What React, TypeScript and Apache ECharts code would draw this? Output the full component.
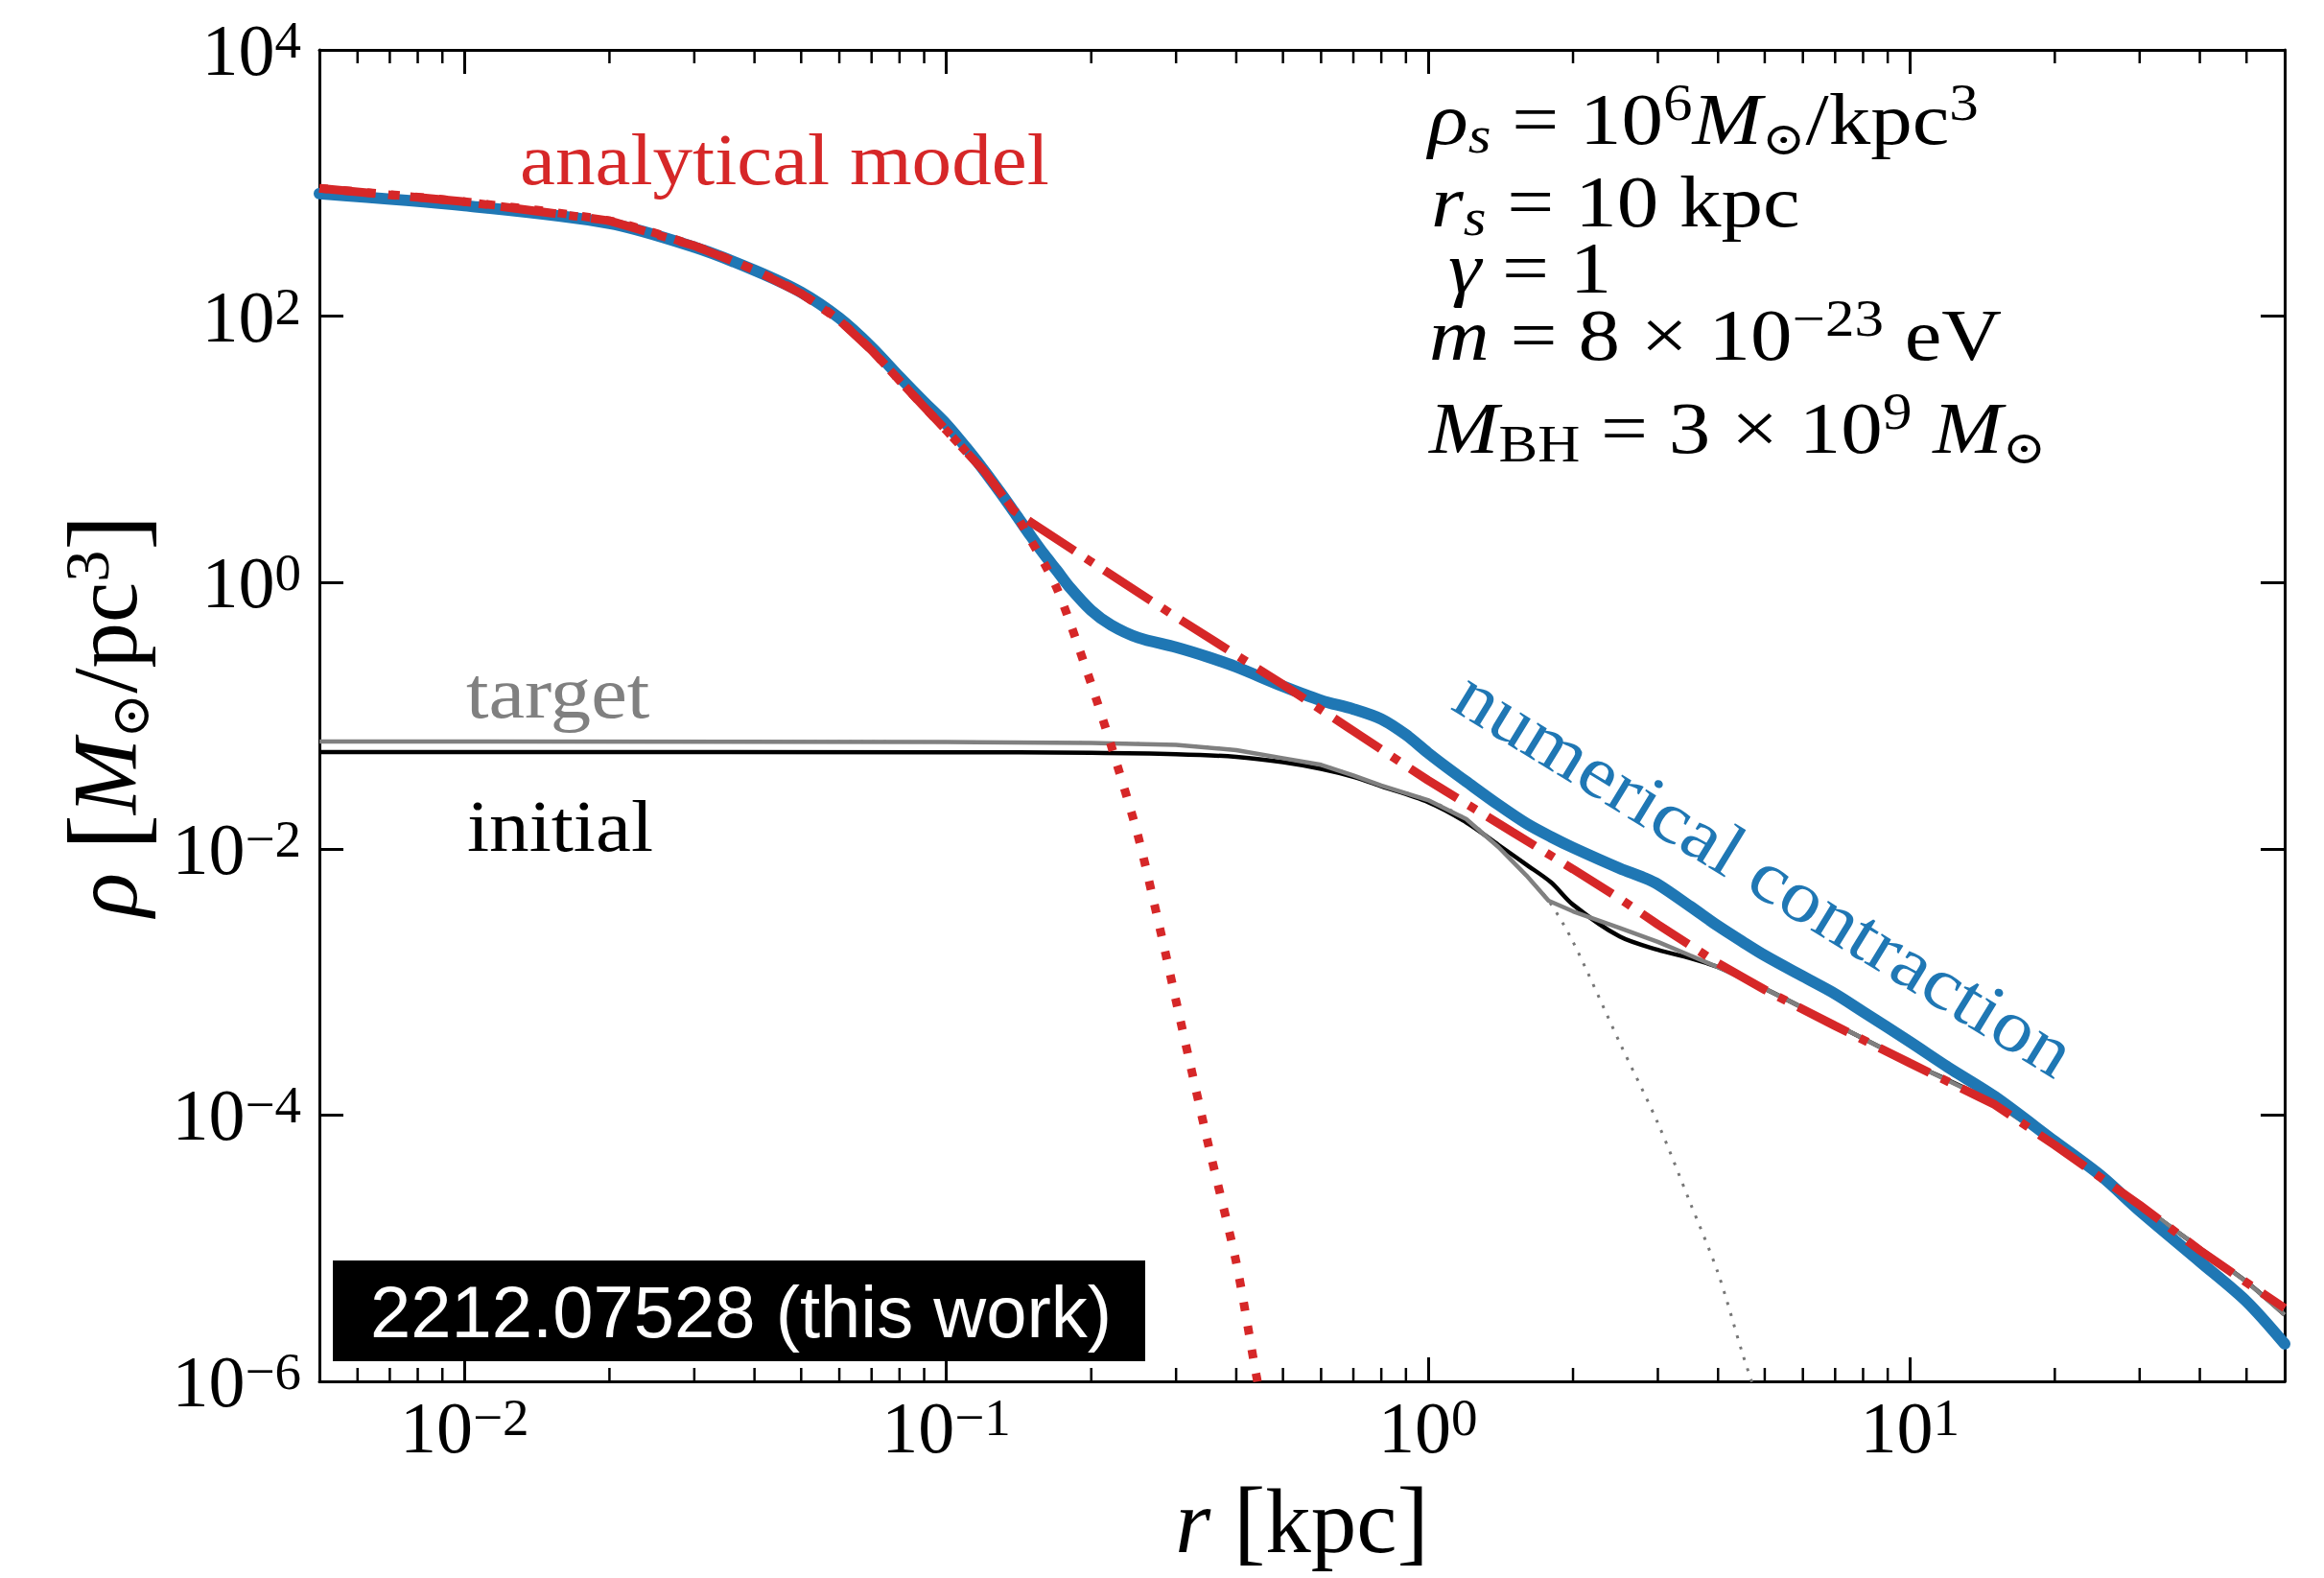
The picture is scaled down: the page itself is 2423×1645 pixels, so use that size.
import { useEffect, useRef } from "react";
import * as echarts from "echarts";

const SERIF = '"Liberation Serif", "Times New Roman", serif';
const SANS = '"Liberation Sans", Arial, sans-serif';
const SYM = '"DejaVu Serif", "DejaVu Sans", serif';

const X_MIN = 0.005;
const X_MAX = 60;
const Y_MIN = 1e-6;
const Y_MAX = 1e4;

const xMinorTicks = [
  0.006, 0.007, 0.008, 0.009, 0.02, 0.03, 0.04, 0.05, 0.06, 0.07, 0.08, 0.09,
  0.2, 0.3, 0.4, 0.5, 0.6, 0.7, 0.8, 0.9, 2, 3, 4, 5, 6, 7, 8, 9, 20, 30, 40, 50,
];

// numerical contraction (blue)
const numR = [
  0.005, 0.01, 0.02, 0.03, 0.04, 0.05, 0.06, 0.07, 0.08, 0.09, 0.1, 0.11, 0.12, 0.13,
  0.14, 0.15, 0.16, 0.17, 0.18, 0.2, 0.22, 0.25, 0.3, 0.35, 0.4, 0.5, 0.6, 0.7, 0.8,
  0.9, 1.0, 1.1, 1.2, 1.4, 1.6, 1.8, 2.0, 2.5, 2.8, 3.0, 3.5, 4, 4.5, 5, 6, 7, 8, 10,
  12, 15, 20, 25, 30, 40, 50, 60,
];
const numRho = [
  832, 676, 498, 330, 221, 151, 96.8, 58.5, 35, 22.6, 15.5, 10.3, 6.9, 4.65, 3.18,
  2.22, 1.61, 1.22, 0.93, 0.617, 0.479, 0.386, 0.326, 0.275, 0.232, 0.166, 0.13,
  0.112, 0.0942, 0.0718, 0.0525, 0.0403, 0.032, 0.0214, 0.0155, 0.0123, 0.0102,
  7.13e-3, 6.08e-3, 5.41e-3, 3.7e-3, 2.63e-3, 2.0e-3, 1.58e-3, 1.1e-3, 8.13e-4,
  5.97e-4, 3.55e-4, 2.29e-4, 1.38e-4, 6.34e-5, 3.47e-5, 1.91e-5, 7.94e-6, 3.98e-6,
  1.91e-6,
];

// analytical model (red dash-dot)
const anaR = [
  0.005, 0.01, 0.02, 0.03, 0.04, 0.05, 0.06, 0.07, 0.08, 0.09, 0.1, 0.11, 0.12, 0.13,
  0.138, 0.15, 0.2, 0.3, 0.5, 0.7, 1, 1.5, 2, 2.5, 3, 4, 5, 7, 10, 15, 20, 30, 40, 50, 60,
];
const anaRho = [
  912, 724, 521, 338, 222, 148, 93, 55.5, 32.9, 20.8, 13.9, 9.6, 6.84, 4.65, 3.47,
  2.83, 1.43, 0.55, 0.171, 0.0766, 0.0327, 0.0133, 7.03e-3, 4.23e-3, 2.7e-3, 1.38e-3,
  8.73e-4, 4.68e-4, 2.46e-4, 1.2e-4, 5.94e-5, 2.11e-5, 9.64e-6, 5.52e-6, 3.55e-6,
];

// soliton core of the analytical model (red dotted)
const solR = [
  0.005, 0.01, 0.02, 0.03, 0.04, 0.05, 0.06, 0.07, 0.08, 0.09, 0.1, 0.11, 0.12, 0.13,
  0.138, 0.15, 0.16, 0.17, 0.18, 0.2, 0.22, 0.25, 0.28, 0.3, 0.35, 0.4, 0.44, 0.46,
];
const solRho = [
  912, 724, 521, 338, 222, 148, 93, 55.5, 32.9, 20.8, 13.9, 9.6, 6.84, 4.65, 3.47,
  2.06, 1.38, 0.89, 0.52, 0.173, 0.0596, 0.0126, 2.21e-3, 7.18e-4, 6.0e-5, 7.8e-6,
  1.12e-6, 5e-7,
];

// target (gray)
const tgtR = [
  0.005, 0.1, 0.2, 0.3, 0.4, 0.5, 0.6, 0.7, 0.8, 1.0, 1.2, 1.4, 1.6, 1.78, 2.0, 2.5,
  3.0, 3.5, 4.0, 5, 7, 10, 15, 20, 30, 40, 50, 60,
];
const tgtRho = [
  0.064, 0.0634, 0.0624, 0.0603, 0.055, 0.0479, 0.0427, 0.0355, 0.0299, 0.0232,
  0.01675, 0.0103, 6.31e-3, 4.07e-3, 3.39e-3, 2.54e-3, 2.0e-3, 1.58e-3, 1.29e-3,
  8.9e-4, 4.8e-4, 2.5e-4, 1.23e-4, 6.2e-5, 2.14e-5, 1.0e-5, 5.6e-6, 3.16e-6,
];

// initial (black)
const initR = [
  0.005, 0.1, 0.2, 0.3, 0.4, 0.5, 0.6, 0.7, 0.8, 1.0, 1.2, 1.4, 1.6, 1.8, 2.0, 2.5,
  3.0, 3.5, 4.0, 5, 7, 10, 15, 20, 30, 40, 50, 60,
];
const initRho = [
  0.0533, 0.0531, 0.0525, 0.0513, 0.049, 0.0447, 0.0398, 0.0347, 0.0295, 0.0224,
  0.0158, 0.0107, 7.6e-3, 5.6e-3, 3.8e-3, 2.19e-3, 1.74e-3, 1.51e-3, 1.29e-3, 8.9e-4,
  4.8e-4, 2.5e-4, 1.23e-4, 6.2e-5, 2.14e-5, 1.0e-5, 5.6e-6, 3.16e-6,
];

// target soliton (gray dotted)
const tsolR = [
  0.005, 0.1, 0.2, 0.3, 0.4, 0.5, 0.6, 0.7, 0.8, 1.0, 1.2, 1.4, 1.6, 1.78, 2.0, 2.5,
  3.0, 3.5, 4.0, 4.5, 4.8,
];
const tsolRho = [
  0.064, 0.0634, 0.0624, 0.0603, 0.055, 0.0479, 0.0427, 0.0355, 0.0299, 0.0232,
  0.01675, 0.0103, 6.31e-3, 4.07e-3, 2.0e-3, 3.5e-4, 8.7e-5, 2.2e-5, 6.5e-6, 1.6e-6,
  7.9e-7,
];

const pairs = (xs: number[], ys: number[]) => xs.map((x, i) => [x, ys[i]]);

const tickLabel = (v: number) => {
  const e = Math.round(Math.log10(v));
  const s = e < 0 ? "\u2212" + String(-e) : String(e);
  return `{b|10}{s|${s}}`;
};

const labelRich = {
  b: { fontFamily: SERIF, fontSize: 76, lineHeight: 76, color: "#000" },
  s: { fontFamily: SERIF, fontSize: 55, lineHeight: 55, verticalAlign: "top", color: "#000" },
};

const xTitleRich = {
  n: { fontFamily: SERIF, fontSize: 95, lineHeight: 95, color: "#000" },
  i: { fontFamily: SERIF, fontSize: 95, lineHeight: 95, fontStyle: "italic", color: "#000" },
  br: { fontFamily: SERIF, fontSize: 100, lineHeight: 95, color: "#000" },
};

const yTitleRich = {
  n: { fontFamily: SERIF, fontSize: 95, lineHeight: 95, color: "#000" },
  i: { fontFamily: SERIF, fontSize: 95, lineHeight: 95, fontStyle: "italic", color: "#000" },
  br: { fontFamily: SERIF, fontSize: 112, lineHeight: 106, color: "#000" },
  sup: { fontFamily: SERIF, fontSize: 66, lineHeight: 62, verticalAlign: "top", color: "#000" },
  sub: { fontFamily: SYM, fontSize: 56, lineHeight: 58, verticalAlign: "bottom", color: "#000" },
};

const annRich = {
  n: { fontFamily: SERIF, fontSize: 77, lineHeight: 88, fill: "#000" },
  i: { fontFamily: SERIF, fontSize: 77, lineHeight: 88, fontStyle: "italic", fill: "#000" },
  sup: { fontFamily: SERIF, fontSize: 54, lineHeight: 50, verticalAlign: "top", fill: "#000" },
  sub: { fontFamily: SERIF, fontSize: 54, lineHeight: 50, fontStyle: "italic", verticalAlign: "bottom", fill: "#000" },
  sym: { fontFamily: SYM, fontSize: 48, lineHeight: 46, verticalAlign: "bottom", fill: "#000" },
  sbh: { fontFamily: SERIF, fontSize: 54, lineHeight: 60, verticalAlign: "bottom", fill: "#000" },
};

const annLines = [
  { text: "{i|ρ}{sub|s}{n| = 10}{sup|6}{i|M}{sym|⊙}{n|/kpc}{sup|3}", x: 1489, y: 124 },
  { text: "{i|r}{sub|s}{n| = 10 kpc}", x: 1492, y: 210 },
  { text: "{i|γ}{n| = 1}", x: 1510, y: 279 },
  { text: "{i|m}{n| = 8 × 10}{sup|−23}{n| eV}", x: 1490, y: 349 },
  { text: "{i|M}{sbh|BH}{n| = 3 × 10}{sup|9}{n| }{i|M}{sym|⊙}", x: 1490, y: 446 },
];

export default function App() {
  const ref = useRef<HTMLDivElement>(null);
  useEffect(() => {
    if (!ref.current) return;
    const chart = echarts.init(ref.current, null, { renderer: "svg" });
    const axisLine = { show: true, onZero: false, lineStyle: { color: "#000", width: 3 } };
    const majorTick = { show: true, inside: true, length: 25, lineStyle: { color: "#000", width: 3 } };
    const lineBase = {
      type: "line" as const,
      showSymbol: false,
      symbol: "none",
      silent: true,
      clip: true,
      xAxisIndex: 0,
      yAxisIndex: 0,
    };
    const txt = (text: string, x: number, y: number, fill: string, extra: any = {}) => ({
      type: "text",
      x,
      y,
      z: 50,
      silent: true,
      ...extra,
      style: {
        text,
        fill,
        fontFamily: SERIF,
        fontSize: 77,
        align: extra.align || "left",
        verticalAlign: "middle",
      },
    });
    chart.setOption({
      animation: false,
      backgroundColor: "#fff",
      grid: {
        left: 333,
        right: 41,
        top: 52,
        bottom: 205,
        containLabel: false,
        outerBoundsMode: "none",
      },
      xAxis: [
        {
          type: "log",
          logBase: 10,
          min: X_MIN,
          max: X_MAX,
          position: "bottom",
          axisLine,
          axisTick: majorTick,
          splitLine: { show: false },
          axisLabel: {
            show: true,
            margin: 10,
            formatter: tickLabel,
            rich: labelRich,
            showMinLabel: false,
            showMaxLabel: false,
          },
          name: "{i|r}{n| }{br|[}{n|kpc}{br|]}",
          nameLocation: "middle",
          nameGap: 98,
          nameTextStyle: { fontFamily: SERIF, fontSize: 95, color: "#000", rich: xTitleRich },
        },
        {
          type: "log",
          logBase: 10,
          min: X_MIN,
          max: X_MAX,
          position: "top",
          axisLine,
          axisTick: majorTick,
          splitLine: { show: false },
          axisLabel: { show: false },
        },
      ],
      yAxis: [
        {
          type: "log",
          logBase: 10,
          min: Y_MIN,
          max: Y_MAX,
          interval: 2,
          position: "left",
          axisLine,
          axisTick: majorTick,
          splitLine: { show: false },
          axisLabel: { show: true, margin: 19, formatter: tickLabel, rich: labelRich },
          name: "{i|ρ}{n| }{br|[}{i|M}{sub|⊙}{n|/pc}{sup|3}{br|]}",
          nameLocation: "middle",
          nameRotate: 90,
          nameGap: 170,
          nameTextStyle: { fontFamily: SERIF, fontSize: 95, color: "#000", rich: yTitleRich },
        },
        {
          type: "log",
          logBase: 10,
          min: Y_MIN,
          max: Y_MAX,
          interval: 2,
          position: "right",
          axisLine,
          axisTick: majorTick,
          splitLine: { show: false },
          axisLabel: { show: false },
        },
      ],
      series: [
        {
          ...lineBase,
          name: "initial",
          data: pairs(initR, initRho),
          smooth: 0.3,
          lineStyle: { color: "#000", width: 4.5 },
          z: 2,
        },
        {
          ...lineBase,
          name: "target soliton",
          data: pairs(tsolR, tsolRho),
          smooth: 0.3,
          lineStyle: { color: "#777", width: 3, type: [3, 9] },
          z: 3,
        },
        {
          ...lineBase,
          name: "target",
          data: pairs(tgtR, tgtRho),
          lineStyle: { color: "#808080", width: 4.5 },
          z: 3,
        },
        {
          ...lineBase,
          name: "numerical contraction",
          data: pairs(numR, numRho),
          smooth: 0.3,
          lineStyle: { color: "#1f77b4", width: 12, join: "round", cap: "round" },
          z: 4,
        },
        {
          ...lineBase,
          name: "soliton core",
          data: pairs(solR, solRho),
          smooth: 0.25,
          lineStyle: { color: "#d62728", width: 9, type: [9, 16] },
          z: 5,
        },
        {
          ...lineBase,
          name: "analytical model",
          data: pairs(anaR, anaRho),
          lineStyle: { color: "#d62728", width: 9, type: [58, 14, 9, 14] },
          z: 6,
        },
        {
          type: "custom",
          name: "minor ticks",
          silent: true,
          clip: false,
          z: 10,
          xAxisIndex: 0,
          yAxisIndex: 0,
          data: xMinorTicks.map((v) => [v, Y_MIN]),
          renderItem: (_p: any, api: any) => {
            const v = api.value(0);
            const b = api.coord([v, Y_MIN]);
            const t = api.coord([v, Y_MAX]);
            const st = { stroke: "#000", lineWidth: 2.5 };
            return {
              type: "group",
              children: [
                { type: "line", shape: { x1: b[0], y1: b[1], x2: b[0], y2: b[1] - 14 }, style: st },
                { type: "line", shape: { x1: t[0], y1: t[1], x2: t[0], y2: t[1] + 14 }, style: st },
              ],
            };
          },
        },
      ],
      graphic: [
        txt("analytical model", 542, 166, "#d62728", { scaleX: 1.08 }),
        txt("target", 486, 722, "#808080", { scaleX: 1.1 }),
        txt("initial", 487, 861, "#000", { scaleX: 1.08 }),
        txt("numerical contraction", 1840, 910, "#1f77b4", {
          rotation: -0.55,
          scaleX: 1.1,
          align: "center",
        }),
        ...annLines.map((l) => ({
          type: "text",
          x: l.x,
          y: l.y,
          z: 50,
          silent: true,
          scaleX: 1.13,
          style: {
            text: l.text,
            rich: annRich,
            fill: "#000",
            fontFamily: SERIF,
            fontSize: 77,
            align: "left",
            verticalAlign: "middle",
          },
        })),
        {
          type: "rect",
          z: 60,
          silent: true,
          shape: { x: 347, y: 1314, width: 847, height: 105 },
          style: { fill: "#000" },
        },
        {
          type: "text",
          x: 386,
          y: 1367,
          z: 61,
          silent: true,
          style: {
            text: "2212.07528 (this work)",
            fill: "#fff",
            fontFamily: SANS,
            fontSize: 76,
            align: "left",
            verticalAlign: "middle",
          },
        },
      ],
    });
    return () => chart.dispose();
  }, []);
  return (
    <div
      ref={ref}
      style={{ position: "fixed", left: 0, top: 0, width: 2423, height: 1645, background: "#fff" }}
    />
  );
}
